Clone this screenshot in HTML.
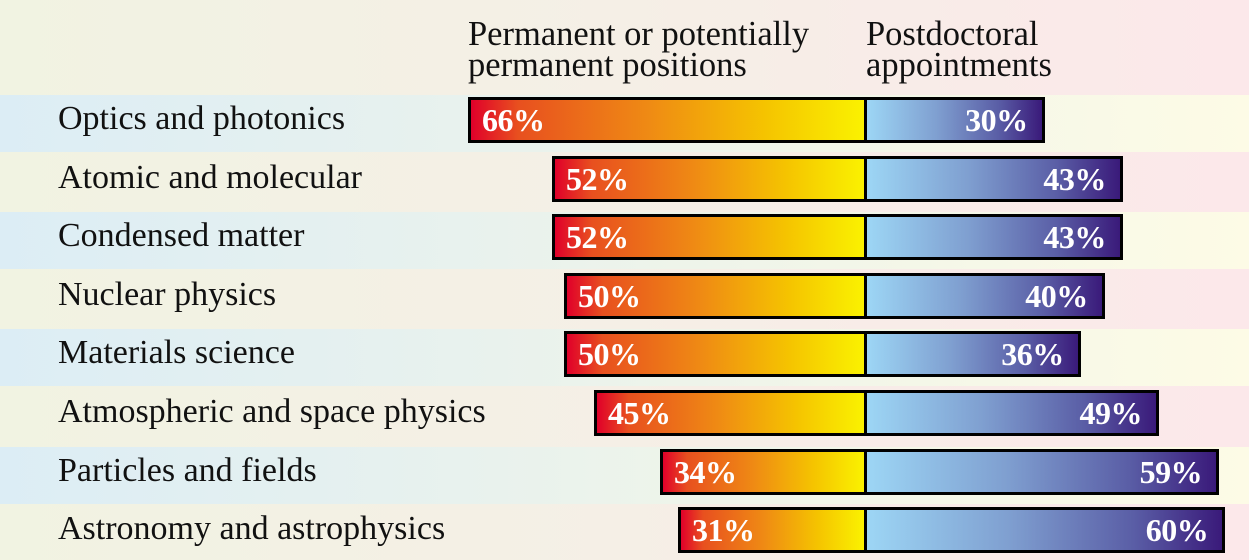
<!DOCTYPE html>
<html><head><meta charset="utf-8"><style>
body{margin:0;width:1249px;height:560px;overflow:hidden;position:relative;background:linear-gradient(90deg,#f1f3e2 0%,#f5efe6 50%,#fce8ea 100%);font-family:"Liberation Serif",serif;}
.band{position:absolute;left:0;width:1249px;height:57px;background:linear-gradient(90deg,#dcedf5 0%,#eef4ea 55%,#fdfbe6 100%);}
.lab{position:absolute;left:58px;font-size:34px;color:#111;line-height:44px;}
.bar{position:absolute;height:40px;border:3px solid #000;}
.l{background:linear-gradient(90deg,#e0002a 0%,#e8501f 12%,#ef8a14 45%,#f5c400 75%,#faf200 100%);}
.r{background:linear-gradient(90deg,#9dd6f5 0%,#7f9fd0 40%,#5a5ea6 75%,#3a1a7a 100%);}
.t{position:absolute;color:#fff;font-size:32px;font-weight:bold;line-height:40px;top:0;letter-spacing:-0.5px}
.hd{position:absolute;font-size:34.5px;line-height:31px;color:#111;top:19px;}
</style></head><body>
<div class="hd" style="left:468px">Permanent or potentially<br>permanent positions</div>
<div class="hd" style="left:866px">Postdoctoral<br>appointments</div>
<div id="c"></div>
<script>
var d=[["Optics and photonics",66,30],["Atomic and molecular",52,43],["Condensed matter",52,43],["Nuclear physics",50,40],["Materials science",50,36],["Atmospheric and space physics",45,49],["Particles and fields",34,59],["Astronomy and astrophysics",31,60]];
var h="";
d.forEach(function(r,i){var top=97+58.6*i;
if(i%2==0)h+='<div class="band" style="top:'+(top-2)+'px"></div>';
h+='<div class="lab" style="top:'+(top)+'px">'+r[0]+'</div>';
var lw=r[1]*6.0,rw=r[2]*6.02;
h+='<div class="bar l" style="top:'+top+'px;left:'+(864-lw)+'px;width:'+(lw-3)+'px"><span class="t" style="left:11px">'+r[1]+'%</span></div>';
h+='<div class="bar r" style="top:'+top+'px;left:864px;width:'+(rw-6)+'px"><span class="t" style="right:14px">'+r[2]+'%</span></div>';
});
document.getElementById("c").innerHTML=h;
</script>
</body></html>
